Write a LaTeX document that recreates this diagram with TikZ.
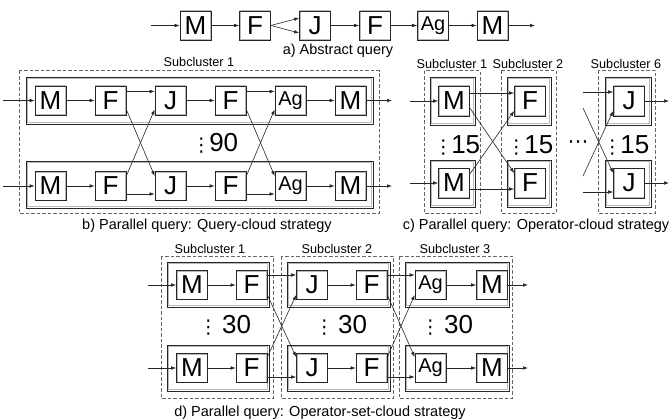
\documentclass[tikz,border=0pt]{standalone}
\usepackage{fontspec}
\setmainfont{Liberation Sans}
\newfontfamily\dejfont{DejaVu Sans}
\usetikzlibrary{arrows.meta}
\newcommand\myopfont{\fontsize{26}{26}\selectfont}
\newcommand\myagfont{\fontsize{20}{20}\selectfont}
\newcommand\mylblfont{\fontsize{12.7}{12.7}\selectfont}
\newcommand\mycapfont{\fontsize{14.5}{14.5}\selectfont}
\newcommand\mycntfont{\fontsize{26}{26}\selectfont}
\newcommand\myvdots{{\dejfont\fontsize{19}{19}\selectfont ⋮}}
\newcommand\myhdots{{\dejfont\fontsize{21}{21}\selectfont ⋯}}
\tikzset{
  op/.style={draw=black!85, line width=0.7pt, fill=white, minimum width=31pt,
    minimum height=29pt, inner sep=0pt, font=\myopfont,
    path picture={\draw[gray!55, line width=2pt]
      (path picture bounding box.south west) rectangle (path picture bounding box.north east);}},
  agop/.style={op, font=\myagfont},
  grpo/.style={draw=black!85, line width=0.7pt},
  grpi/.style={draw=gray!55, line width=0.9pt},
  subc/.style={draw=black!60, line width=1pt, dash pattern=on 3.5pt off 2pt},
  arr/.style={-{Latex[length=5pt,width=3.6pt]}, line width=0.6pt, draw=black!85},
  lbl/.style={font=\mylblfont, inner sep=0pt},
  captxt/.style={font=\mycapfont, inner sep=0pt},
  cnt/.style={font=\mycntfont, inner sep=0pt},
}
\newcommand\myframe[4]{%
  \draw[grpi] (#1+1.1,#2+1.1) rectangle (#3-1.1,#4-1.1);
  \draw[grpo] (#1,#2) rectangle (#3,#4);}
\begin{document}
\begin{tikzpicture}[x=1pt,y=-1pt]
\useasboundingbox (0,0) rectangle (670,420);

% ---------------- a) abstract query
\node[op] (a1) at (195.5,25.5) {M};
\node[op] (a2) at (255,25.5) {F};
\node[op] (a3) at (315,25.5) {J};
\node[op] (a4) at (375,25.5) {F};
\node[agop] (a5) at (433,25.5) {Ag};
\node[op] (a6) at (492.5,25.5) {M};
\coordinate (ain) at (151,25.5);
\coordinate (aout) at (535,25.5);
\draw[arr] (ain) -- (a1);
\draw[arr] (a1) -- (a2);
\draw[arr] (a2.east) -- ([yshift=7.5pt]a3.west);
\draw[arr] (a2.east) -- ([yshift=-7.5pt]a3.west);
\draw[arr] (a3) -- (a4);
\draw[arr] (a4) -- (a5);
\draw[arr] (a5) -- (a6);
\draw[arr] (a6) -- (aout);
\node[captxt] (capa) at (338,51) {a) Abstract query};

% ---------------- b) query-cloud
\draw[subc] (19,71) rectangle (379,213);
\myframe{26}{77}{373}{124}
\myframe{26}{161}{373}{208}
\node[lbl] (lb1) at (199,62) {Subcluster 1};
\foreach \r/\y in {t/100.5,b/186}{
  \node[op] (b\r1) at (50.5,\y) {M};
  \node[op] (b\r2) at (110.5,\y) {F};
  \node[op] (b\r3) at (170.5,\y) {J};
  \node[op] (b\r4) at (230.5,\y) {F};
  \node[agop] (b\r5) at (290.5,\y) {Ag};
  \node[op] (b\r6) at (350.5,\y) {M};
  \coordinate (bin\r) at (3,\y);
  \coordinate (bout\r) at (392,\y);
  \draw[arr] (bin\r) -- (b\r1);
  \draw[arr] (b\r1) -- (b\r2);
  \draw[arr] (b\r3) -- (b\r4);
  \draw[arr] (b\r5) -- (b\r6);
  \draw[arr] (b\r6) -- (bout\r);
}
\foreach \p/\q in {2/3,4/5}{
  \draw[arr] ([yshift=9pt]bt\p.east) -- ([yshift=9pt]bt\q.west);
  \draw[arr] ([yshift=-9pt]bt\p.east) -- ([yshift=10pt]bb\q.west);
  \draw[arr] ([yshift=10pt]bb\p.east) -- ([yshift=-9pt]bt\q.west);
  \draw[arr] ([yshift=-8pt]bb\p.east) -- ([yshift=-8pt]bb\q.west);
}
\node[cnt] (n90) at (215,143) {\myvdots\kern-1.5pt90};
\node[captxt] (capb) at (207,226) {b) Parallel query: Query-cloud strategy};

% ---------------- c) operator-cloud
\draw[subc] (424,71) rectangle (480,213);
\draw[subc] (501,71) rectangle (556,213);
\draw[subc] (598,71) rectangle (655,213);
\myframe{430}{77}{475}{125}
\myframe{430}{160}{475}{207}
\myframe{507}{77}{551}{125}
\myframe{507}{160}{551}{207}
\myframe{605}{77}{651}{125}
\myframe{605}{160}{651}{207}
\node[lbl] (lc1) at (452,64) {Subcluster 1};
\node[lbl] (lc2) at (528,64) {Subcluster 2};
\node[lbl] (lc6) at (626,64) {Subcluster 6};
\node[op, minimum height=30pt] (ct1) at (454,101) {M};
\node[op, minimum height=30pt] (cb1) at (454,183) {M};
\node[op, minimum height=30pt] (ct2) at (530,101) {F};
\node[op, minimum height=30pt] (cb2) at (530,183) {F};
\node[op, minimum height=30pt] (ct6) at (629,101) {J};
\node[op, minimum height=30pt] (cb6) at (629,183) {J};
\coordinate (cint) at (410,101);
\coordinate (cinb) at (410,183);
\draw[arr] (cint) -- (ct1);
\draw[arr] (cinb) -- (cb1);
\draw[arr] ([yshift=8pt]ct1.east) -- ([yshift=8pt]ct2.west);
\draw[arr] ([yshift=-7pt]ct1.east) -- ([yshift=10pt]cb2.west);
\draw[arr] ([yshift=9pt]cb1.east) -- ([yshift=-10pt]ct2.west);
\draw[arr] ([yshift=-6pt]cb1.east) -- ([yshift=-6pt]cb2.west);
\coordinate (s6a) at (583,92);
\coordinate (s6b) at (583,108);
\coordinate (s6c) at (583,176);
\coordinate (s6d) at (583,192);
\draw[arr] (s6a) -- ([yshift=9pt]ct6.west);
\draw[arr] (s6b) -- ([yshift=10pt]cb6.west);
\draw[arr] (s6c) -- ([yshift=-10pt]ct6.west);
\draw[arr] (s6d) -- ([yshift=-9pt]cb6.west);
\coordinate (coutt) at (669,101);
\coordinate (coutb) at (669,183);
\draw[arr] (ct6) -- (coutt);
\draw[arr] (cb6) -- (coutb);
\node[cnt] (n15a) at (457,145) {\myvdots\kern-1.5pt15};
\node[cnt] (n15b) at (530,145) {\myvdots\kern-1.5pt15};
\node[cnt] (n15c) at (626,145) {\myvdots\kern-1.5pt15};
\node[cnt] (hd) at (578,145) {\myhdots};
\node[captxt] (capc) at (536,226) {c) Parallel query: Operator-cloud strategy};

% ---------------- d) operator-set-cloud
\draw[subc] (161,256) rectangle (273,398);
\draw[subc] (281,256) rectangle (393,398);
\draw[subc] (399,256) rectangle (512,398);
\myframe{167}{262}{269}{307}
\myframe{167}{345}{269}{391}
\myframe{287}{262}{390}{307}
\myframe{287}{345}{390}{391}
\myframe{405}{262}{509}{307}
\myframe{405}{345}{509}{391}
\node[lbl] (ld1) at (210,249) {Subcluster 1};
\node[lbl] (ld2) at (337,249) {Subcluster 2};
\node[lbl] (ld3) at (455,249) {Subcluster 3};
\foreach \r/\y in {t/285,b/368}{
  \node[op] (d\r1) at (192,\y) {M};
  \node[op] (d\r2) at (251.5,\y) {F};
  \node[op] (d\r3) at (312,\y) {J};
  \node[op] (d\r4) at (371.5,\y) {F};
  \node[agop] (d\r5) at (430.5,\y) {Ag};
  \node[op] (d\r6) at (492,\y) {M};
  \coordinate (din\r) at (148,\y);
  \coordinate (dout\r) at (528,\y);
  \draw[arr] (din\r) -- (d\r1);
  \draw[arr] (d\r1) -- (d\r2);
  \draw[arr] (d\r3) -- (d\r4);
  \draw[arr] (d\r5) -- (d\r6);
  \draw[arr] (d\r6) -- (dout\r);
}
\foreach \p/\q in {2/3,4/5}{
  \draw[arr] ([yshift=10pt]dt\p.east) -- ([yshift=10pt]dt\q.west);
  \draw[arr] ([yshift=-10pt]dt\p.east) -- ([yshift=11pt]db\q.west);
  \draw[arr] ([yshift=11pt]db\p.east) -- ([yshift=-10pt]dt\q.west);
  \draw[arr] ([yshift=-9pt]db\p.east) -- ([yshift=-9pt]db\q.west);
}
\node[cnt] (n30a) at (225,325) {\myvdots\,30};
\node[cnt] (n30b) at (341,325) {\myvdots\,30};
\node[cnt] (n30c) at (447,325) {\myvdots\,30};
\node[captxt] (capd) at (320,413) {d) Parallel query: Operator-set-cloud strategy};
\end{tikzpicture}
\end{document}
